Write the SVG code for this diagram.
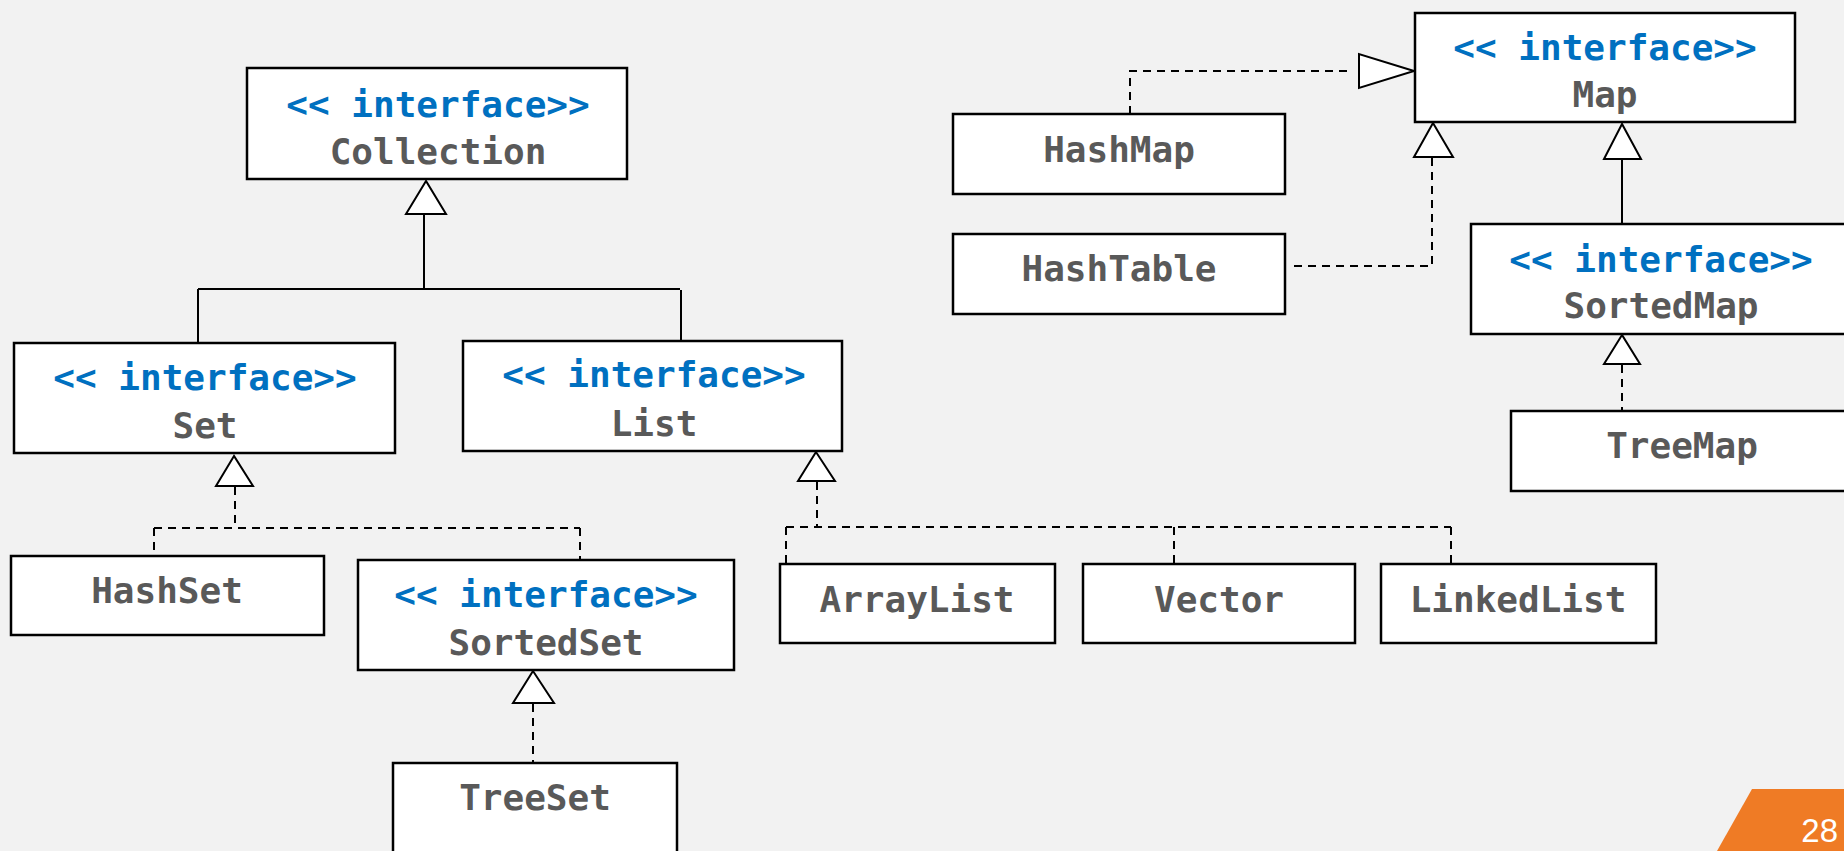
<svg xmlns="http://www.w3.org/2000/svg" width="1844" height="851" viewBox="0 0 1844 851">
  <style>
    .box { fill: #ffffff; stroke: #000000; stroke-width: 2.5; }
    .stereo { font-family: "DejaVu Sans Mono", "Liberation Mono", monospace; font-weight: bold; font-size: 36px; fill: #0070C0; text-anchor: middle; }
    .name { font-family: "DejaVu Sans Mono", "Liberation Mono", monospace; font-weight: bold; font-size: 36px; fill: #595959; text-anchor: middle; }
    .solid { fill: none; stroke: #000000; stroke-width: 2; }
    .dash { fill: none; stroke: #000000; stroke-width: 2; stroke-dasharray: 8 6; }
    .head { fill: #ffffff; stroke: #000000; stroke-width: 2; stroke-linejoin: miter; }
    .page { font-family: "Liberation Sans", "Noto Sans", sans-serif; font-size: 33px; fill: #ffffff; text-anchor: end; }
  </style>

  <rect width="1844" height="851" fill="#F2F2F2"/>

  <!-- connectors: generalization / realization arrows -->
  <g id="connectors">
    <!-- Set, List extend Collection -->
    <path class="solid" d="M424,214 V289 M198,289 H680 M198,289 V342 M681,290 V340"/>
    <polygon class="head" points="426,181 406,214 446,214"/>

    <!-- HashSet, SortedSet realize Set -->
    <path class="dash" d="M235,487 V528 M154,528 H580 M154,528 V555 M580,528 V559"/>
    <polygon class="head" points="234,456 216,486 253,486"/>

    <!-- ArrayList, Vector, LinkedList realize List -->
    <path class="dash" d="M817,482 V527 M786,527 H1451 M786,527 V563 M1174,527 V563 M1451,527 V563"/>
    <polygon class="head" points="816,452 798,481 835,481"/>

    <!-- TreeSet realizes SortedSet -->
    <path class="dash" d="M533,704 V763"/>
    <polygon class="head" points="533,671 513,703 554,703"/>

    <!-- HashMap realizes Map -->
    <path class="dash" d="M1130,114 V71 H1352"/>
    <polygon class="head" points="1414,71 1359,54 1359,88"/>

    <!-- HashTable realizes Map -->
    <path class="dash" d="M1294,266 H1432 V158"/>
    <polygon class="head" points="1433,123 1414,157 1453,157"/>

    <!-- SortedMap extends Map -->
    <path class="solid" d="M1622,159 V224"/>
    <polygon class="head" points="1622,124 1604,159 1641,159"/>

    <!-- TreeMap realizes SortedMap -->
    <path class="dash" d="M1622,365 V411"/>
    <polygon class="head" points="1622,335 1604,364 1640,364"/>
  </g>

  <g id="collection">
    <rect class="box" x="247" y="68" width="380" height="111"/>
    <text class="stereo" x="438" y="117">&lt;&lt; interface&gt;&gt;</text>
    <text class="name" x="438" y="164">Collection</text>
  </g>

  <g id="set">
    <rect class="box" x="14" y="343" width="381" height="110"/>
    <text class="stereo" x="205" y="390">&lt;&lt; interface&gt;&gt;</text>
    <text class="name" x="205" y="438">Set</text>
  </g>

  <g id="list">
    <rect class="box" x="463" y="341" width="379" height="110"/>
    <text class="stereo" x="654" y="387">&lt;&lt; interface&gt;&gt;</text>
    <text class="name" x="654" y="436">List</text>
  </g>

  <g id="hashset">
    <rect class="box" x="11" y="556" width="313" height="79"/>
    <text class="name" x="167" y="603">HashSet</text>
  </g>

  <g id="sortedset">
    <rect class="box" x="358" y="560" width="376" height="110"/>
    <text class="stereo" x="546" y="607">&lt;&lt; interface&gt;&gt;</text>
    <text class="name" x="546" y="655">SortedSet</text>
  </g>

  <g id="treeset">
    <rect class="box" x="393" y="763" width="284" height="110"/>
    <text class="name" x="535" y="810">TreeSet</text>
  </g>

  <g id="arraylist">
    <rect class="box" x="780" y="564" width="275" height="79"/>
    <text class="name" x="917" y="612">ArrayList</text>
  </g>

  <g id="vector">
    <rect class="box" x="1083" y="564" width="272" height="79"/>
    <text class="name" x="1219" y="612">Vector</text>
  </g>

  <g id="linkedlist">
    <rect class="box" x="1381" y="564" width="275" height="79"/>
    <text class="name" x="1518" y="612">LinkedList</text>
  </g>

  <g id="map">
    <rect class="box" x="1415" y="13" width="380" height="109"/>
    <text class="stereo" x="1605" y="60">&lt;&lt; interface&gt;&gt;</text>
    <text class="name" x="1605" y="107">Map</text>
  </g>

  <g id="hashmap">
    <rect class="box" x="953" y="114" width="332" height="80"/>
    <text class="name" x="1119" y="162">HashMap</text>
  </g>

  <g id="hashtable">
    <rect class="box" x="953" y="234" width="332" height="80"/>
    <text class="name" x="1119" y="281">HashTable</text>
  </g>

  <g id="sortedmap">
    <rect class="box" x="1471" y="224" width="390" height="110"/>
    <text class="stereo" x="1661" y="272">&lt;&lt; interface&gt;&gt;</text>
    <text class="name" x="1661" y="318">SortedMap</text>
  </g>

  <g id="treemap">
    <rect class="box" x="1511" y="411" width="350" height="80"/>
    <text class="name" x="1682" y="458">TreeMap</text>
  </g>

  <!-- slide number tab -->
  <g id="page-number">
    <polygon points="1752,789 1844,789 1844,851 1717,851" fill="#EF7B25"/>
    <text class="page" x="1838" y="842">28</text>
  </g>
</svg>
